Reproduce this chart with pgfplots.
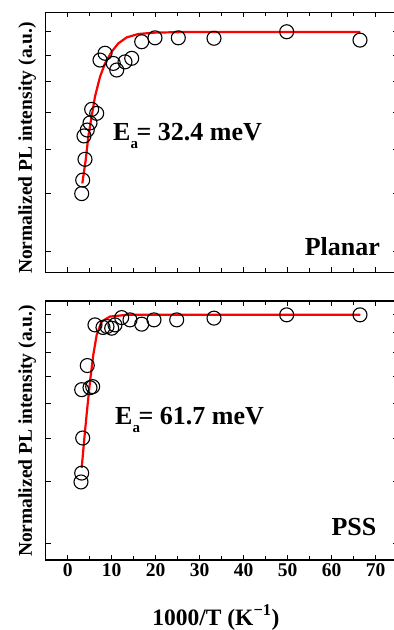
\documentclass[border=0pt]{standalone}
\usepackage{fontspec}
\setmainfont{Liberation Serif}
\usepackage{pgfplots}
\pgfplotsset{compat=1.18}
\newcommand{\tl}[1]{\textbf{\fontsize{19.5}{20}\selectfont #1}}
\begin{document}
\begin{tikzpicture}
\begin{axis}[at={(45.7pt,357.7pt)}, anchor=south west,
  scale only axis, width=352pt, height=260pt, xmin=-5, xmax=75,
  ymode=log, ymin=0.2697, ymax=0.992, ytick={0.3,0.4,0.5,0.6,0.7,0.8,0.9},
  xtick={0,10,20,30,40,50,60,70}, minor xtick={5,15,25,35,45,55,65},
  xticklabels={}, yticklabels={},
  tick align=inside, tick pos=both,
  major tick length=5pt, minor tick length=4pt,
  every tick/.style={black, line width=1pt},
  axis line style={line width=1.2pt},
  ylabel={Normalized PL intensity (a.u.)},
  ylabel style={at={(axis description cs:-0.039,0.478)}, anchor=base, font=\bfseries\fontsize{19.5}{22}\selectfont},
  clip=false]
\addplot[only marks, mark=o, mark size=7pt, mark options={line width=1.1pt, black}] coordinates {
(3.18,0.400) (3.41,0.428) (3.70,0.534) (3.93,0.475) (4.45,0.550)
(5.07,0.570) (5.45,0.610) (6.59,0.598) (7.34,0.781) (8.48,0.808)
(10.36,0.768) (11.14,0.743) (13.02,0.774) (14.55,0.788) (16.82,0.856)
(19.84,0.873) (25.14,0.873) (33.25,0.871) (49.77,0.900) (66.43,0.863)};
\addplot[red, line width=2.2pt, no marks] coordinates {
(3.32,0.421) (4.09,0.473) (4.68,0.532) (5.30,0.578) (6.20,0.650)
(7.34,0.718) (8.48,0.768) (9.98,0.814) (11.5,0.849) (13.41,0.875)
(16.07,0.890) (19.84,0.896) (27.4,0.899) (66.5,0.899)};
\node[anchor=base west, font=\bfseries\fontsize{26}{26}\selectfont, inner sep=0pt] at (axis cs:10.3,0.523) {E\raisebox{-8pt}{\fontsize{15}{15}\selectfont a}\kern-1.5pt= 32.4 meV};
\node[anchor=base east, font=\bfseries\fontsize{26}{26}\selectfont, inner sep=0pt] at (axis description cs:0.950,0.0665) {Planar};
\end{axis}
\begin{axis}[at={(45.7pt,70pt)}, anchor=south west,
  scale only axis, width=352pt, height=259pt, xmin=-5, xmax=75,
  ymode=log, ymin=0.180, ymax=0.981, ytick={0.2,0.3,0.4,0.5,0.6,0.7,0.8,0.9},
  xtick={0,10,20,30,40,50,60,70}, minor xtick={5,15,25,35,45,55,65},
  xticklabels={\tl{0},\tl{10},\tl{20},\tl{30},\tl{40},\tl{50},\tl{60},\tl{70}}, yticklabels={},
  tick align=inside, tick pos=both,
  major tick length=5pt, minor tick length=4pt,
  every tick/.style={black, line width=1pt},
  axis line style={line width=1.2pt},
  xticklabel style={font=\bfseries\fontsize{19.5}{20}\selectfont},
  ylabel={Normalized PL intensity (a.u.)},
  ylabel style={at={(axis description cs:-0.039,0.498)}, anchor=base, font=\bfseries\fontsize{19.5}{22}\selectfont},
  xlabel={1000/T (K\textsuperscript{−1})},
  xlabel style={at={(axis description cs:0.4835,-0.251)}, anchor=base, font=\bfseries\fontsize{23.5}{24}\selectfont},
  clip=false]
\addplot[only marks, mark=o, mark size=7pt, mark options={line width=1.1pt, black}] coordinates {
(3.02,0.300) (3.18,0.318) (3.41,0.400) (3.18,0.549) (4.45,0.643)
(5.07,0.556) (5.68,0.560) (6.20,0.839) (8.02,0.825) (8.93,0.830)
(10.0,0.821) (10.75,0.839) (12.27,0.880) (14.16,0.867) (16.82,0.843)
(19.61,0.867) (24.77,0.867) (33.25,0.877) (49.77,0.896) (66.43,0.896)};
\addplot[red, line width=2.2pt, no marks] coordinates {
(3.18,0.329) (3.93,0.418) (4.45,0.487) (5.07,0.579) (5.82,0.690)
(6.59,0.786) (7.73,0.858) (9.61,0.886) (13.4,0.896) (66.5,0.896)};
\node[anchor=base west, font=\bfseries\fontsize{26}{26}\selectfont, inner sep=0pt] at (axis cs:10.75,0.437) {E\raisebox{-8pt}{\fontsize{15}{15}\selectfont a}\kern-1.5pt= 61.7 meV};
\node[anchor=base east, font=\bfseries\fontsize{26}{26}\selectfont, inner sep=0pt] at (axis description cs:0.940,0.0965) {PSS};
\end{axis}
\pgfresetboundingbox
\path[use as bounding box] (0,0) rectangle (394pt,630pt);
\end{tikzpicture}
\end{document}
